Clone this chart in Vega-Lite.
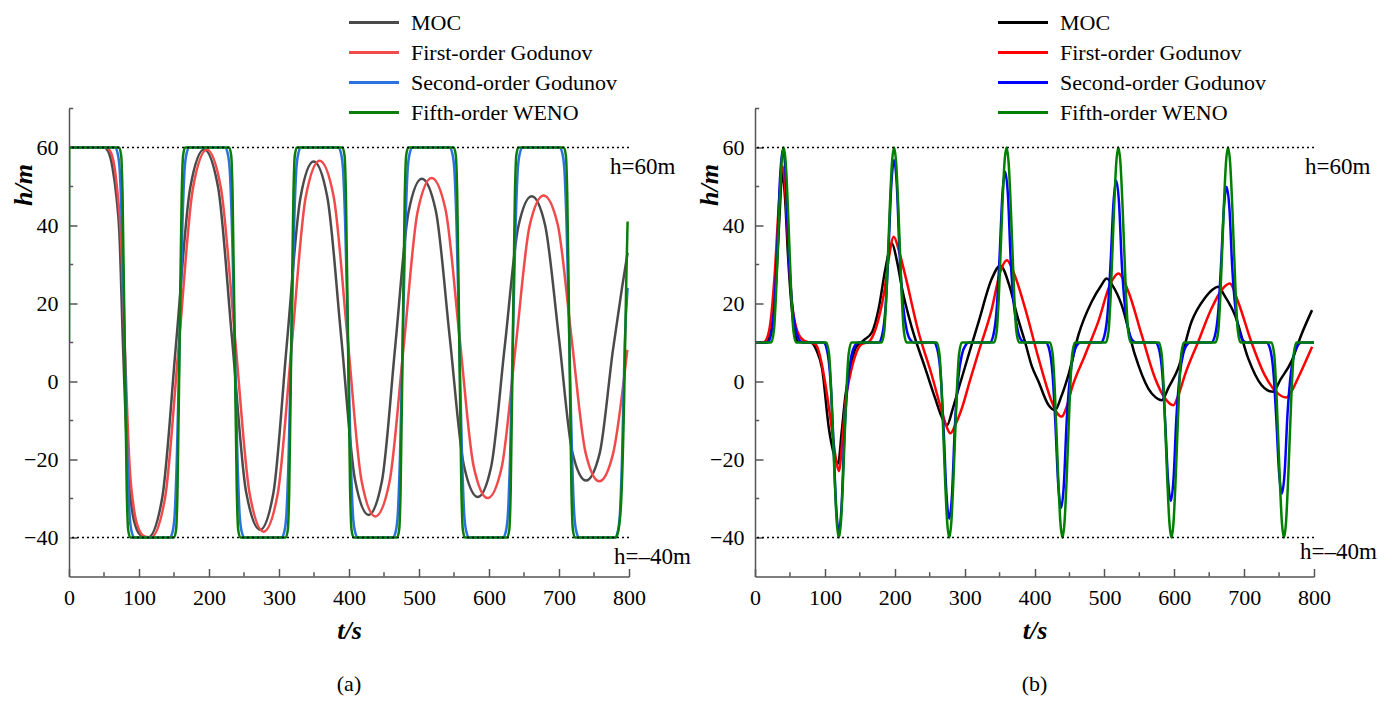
{
  "$schema": "https://vega.github.io/schema/vega-lite/v6.json",
  "background": "white",
  "padding": {"left": 9, "top": 10.5, "right": 5, "bottom": 5},
  "config": {
    "font": "Liberation Serif",
    "view": {"stroke": null},
    "axis": {"labelFont": "Liberation Serif", "labelFontSize": 22, "labelColor": "#000", "titleFont": "Liberation Serif", "titleColor": "#000", "grid": false, "domainColor": "#555", "tickColor": "#555", "domainWidth": 1.5, "tickWidth": 1.5},
    "title": {"font": "Liberation Serif", "fontSize": 22, "fontWeight": "normal", "color": "#000"}
  },
  "datasets": {
    "a": [
      {"series":"MOC","t":0,"h":60},{"series":"MOC","t":50,"h":60},{"series":"MOC","t":56,"h":59},{"series":"MOC","t":62,"h":55},{"series":"MOC","t":68,"h":47},{"series":"MOC","t":72,"h":38},{"series":"MOC","t":77,"h":10},{"series":"MOC","t":84,"h":-22},{"series":"MOC","t":90,"h":-33},{"series":"MOC","t":97,"h":-38},{"series":"MOC","t":105,"h":-39.7},{"series":"MOC","t":113,"h":-40},{"series":"MOC","t":133,"h":-30},{"series":"MOC","t":153,"h":9.8},{"series":"MOC","t":173,"h":49.5},{"series":"MOC","t":193,"h":59.5},{"series":"MOC","t":213,"h":49.8},{"series":"MOC","t":233,"h":10.8},{"series":"MOC","t":253,"h":-28.3},{"series":"MOC","t":273,"h":-38},{"series":"MOC","t":292,"h":-28.6},{"series":"MOC","t":311,"h":9.2},{"series":"MOC","t":330.5,"h":47},{"series":"MOC","t":349.5,"h":56.4},{"series":"MOC","t":369,"h":47.3},{"series":"MOC","t":389,"h":11.1},{"series":"MOC","t":408.5,"h":-25.1},{"series":"MOC","t":428,"h":-34.2},{"series":"MOC","t":447,"h":-25.6},{"series":"MOC","t":466,"h":8.9},{"series":"MOC","t":485,"h":43.4},{"series":"MOC","t":504,"h":52},{"series":"MOC","t":524,"h":43.8},{"series":"MOC","t":544,"h":11.2},{"series":"MOC","t":564,"h":-21.4},{"series":"MOC","t":584,"h":-29.6},{"series":"MOC","t":603,"h":-21.9},{"series":"MOC","t":622.5,"h":9},{"series":"MOC","t":642,"h":39.8},{"series":"MOC","t":661,"h":47.5},{"series":"MOC","t":680,"h":40.2},{"series":"MOC","t":700,"h":11},{"series":"MOC","t":719,"h":-18.1},{"series":"MOC","t":738.6,"h":-25.4},{"series":"MOC","t":758,"h":-18.5},{"series":"MOC","t":777,"h":8},{"series":"MOC","t":790,"h":24},{"series":"MOC","t":798,"h":33},
      {"series":"First-order Godunov","t":0,"h":60},{"series":"First-order Godunov","t":53,"h":60},{"series":"First-order Godunov","t":59,"h":59},{"series":"First-order Godunov","t":65,"h":55},{"series":"First-order Godunov","t":70,"h":47},{"series":"First-order Godunov","t":74,"h":38},{"series":"First-order Godunov","t":79.5,"h":10},{"series":"First-order Godunov","t":86.7,"h":-22},{"series":"First-order Godunov","t":93,"h":-33},{"series":"First-order Godunov","t":100,"h":-38},{"series":"First-order Godunov","t":108,"h":-39.7},{"series":"First-order Godunov","t":117,"h":-40},{"series":"First-order Godunov","t":137,"h":-30.1},{"series":"First-order Godunov","t":157,"h":9.7},{"series":"First-order Godunov","t":177,"h":49.5},{"series":"First-order Godunov","t":197,"h":59.4},{"series":"First-order Godunov","t":217,"h":49.6},{"series":"First-order Godunov","t":237.5,"h":10.5},{"series":"First-order Godunov","t":258,"h":-28.7},{"series":"First-order Godunov","t":278,"h":-38.5},{"series":"First-order Godunov","t":298,"h":-29},{"series":"First-order Godunov","t":318,"h":9},{"series":"First-order Godunov","t":338,"h":47.1},{"series":"First-order Godunov","t":358,"h":56.6},{"series":"First-order Godunov","t":378,"h":47.5},{"series":"First-order Godunov","t":398,"h":11},{"series":"First-order Godunov","t":418,"h":-25.5},{"series":"First-order Godunov","t":437.6,"h":-34.6},{"series":"First-order Godunov","t":457.7,"h":-25.9},{"series":"First-order Godunov","t":478,"h":8.8},{"series":"First-order Godunov","t":498,"h":43.5},{"series":"First-order Godunov","t":518,"h":52.2},{"series":"First-order Godunov","t":538,"h":44},{"series":"First-order Godunov","t":558,"h":11.2},{"series":"First-order Godunov","t":578,"h":-21.7},{"series":"First-order Godunov","t":598,"h":-29.9},{"series":"First-order Godunov","t":618,"h":-22.1},{"series":"First-order Godunov","t":638,"h":8.9},{"series":"First-order Godunov","t":658,"h":39.9},{"series":"First-order Godunov","t":678,"h":47.7},{"series":"First-order Godunov","t":698,"h":40.4},{"series":"First-order Godunov","t":718,"h":11},{"series":"First-order Godunov","t":738,"h":-18.3},{"series":"First-order Godunov","t":757.6,"h":-25.6},{"series":"First-order Godunov","t":777,"h":-18.7},{"series":"First-order Godunov","t":797.6,"h":8.1},
      {"series":"Second-order Godunov","t":0,"h":60},{"series":"Second-order Godunov","t":65.5,"h":60},{"series":"Second-order Godunov","t":69.5,"h":58.5},{"series":"Second-order Godunov","t":72.5,"h":54},{"series":"Second-order Godunov","t":75.5,"h":40},{"series":"Second-order Godunov","t":79.5,"h":10},{"series":"Second-order Godunov","t":83.5,"h":-20},{"series":"Second-order Godunov","t":86.5,"h":-34},{"series":"Second-order Godunov","t":89.5,"h":-38.5},{"series":"Second-order Godunov","t":93.5,"h":-40},
      {"series":"Second-order Godunov","t":144,"h":-40},{"series":"Second-order Godunov","t":148,"h":-38.5},{"series":"Second-order Godunov","t":151,"h":-34},{"series":"Second-order Godunov","t":154,"h":-20},{"series":"Second-order Godunov","t":158,"h":10},{"series":"Second-order Godunov","t":162,"h":40},{"series":"Second-order Godunov","t":165,"h":54},{"series":"Second-order Godunov","t":168,"h":58.5},{"series":"Second-order Godunov","t":172,"h":60},
      {"series":"Second-order Godunov","t":222.7,"h":60},{"series":"Second-order Godunov","t":226.7,"h":58.5},{"series":"Second-order Godunov","t":229.7,"h":54},{"series":"Second-order Godunov","t":232.7,"h":40},{"series":"Second-order Godunov","t":236.7,"h":10},{"series":"Second-order Godunov","t":240.7,"h":-20},{"series":"Second-order Godunov","t":243.7,"h":-34},{"series":"Second-order Godunov","t":246.7,"h":-38.5},{"series":"Second-order Godunov","t":250.7,"h":-40},
      {"series":"Second-order Godunov","t":303.6,"h":-40},{"series":"Second-order Godunov","t":307.6,"h":-38.5},{"series":"Second-order Godunov","t":310.6,"h":-34},{"series":"Second-order Godunov","t":313.6,"h":-20},{"series":"Second-order Godunov","t":317.6,"h":10},{"series":"Second-order Godunov","t":321.6,"h":40},{"series":"Second-order Godunov","t":324.6,"h":54},{"series":"Second-order Godunov","t":327.6,"h":58.5},{"series":"Second-order Godunov","t":331.6,"h":60},
      {"series":"Second-order Godunov","t":384.6,"h":60},{"series":"Second-order Godunov","t":388.6,"h":58.5},{"series":"Second-order Godunov","t":391.6,"h":54},{"series":"Second-order Godunov","t":394.6,"h":40},{"series":"Second-order Godunov","t":398.6,"h":10},{"series":"Second-order Godunov","t":402.6,"h":-20},{"series":"Second-order Godunov","t":405.6,"h":-34},{"series":"Second-order Godunov","t":408.6,"h":-38.5},{"series":"Second-order Godunov","t":412.6,"h":-40},
      {"series":"Second-order Godunov","t":462.7,"h":-40},{"series":"Second-order Godunov","t":466.7,"h":-38.5},{"series":"Second-order Godunov","t":469.7,"h":-34},{"series":"Second-order Godunov","t":472.7,"h":-20},{"series":"Second-order Godunov","t":476.7,"h":10},{"series":"Second-order Godunov","t":480.7,"h":40},{"series":"Second-order Godunov","t":483.7,"h":54},{"series":"Second-order Godunov","t":486.7,"h":58.5},{"series":"Second-order Godunov","t":490.7,"h":60},
      {"series":"Second-order Godunov","t":543.6,"h":60},{"series":"Second-order Godunov","t":547.6,"h":58.5},{"series":"Second-order Godunov","t":550.6,"h":54},{"series":"Second-order Godunov","t":553.6,"h":40},{"series":"Second-order Godunov","t":557.6,"h":10},{"series":"Second-order Godunov","t":561.6,"h":-20},{"series":"Second-order Godunov","t":564.6,"h":-34},{"series":"Second-order Godunov","t":567.6,"h":-38.5},{"series":"Second-order Godunov","t":571.6,"h":-40},
      {"series":"Second-order Godunov","t":620,"h":-40},{"series":"Second-order Godunov","t":624,"h":-38.5},{"series":"Second-order Godunov","t":627,"h":-34},{"series":"Second-order Godunov","t":630,"h":-20},{"series":"Second-order Godunov","t":634,"h":10},{"series":"Second-order Godunov","t":638,"h":40},{"series":"Second-order Godunov","t":641,"h":54},{"series":"Second-order Godunov","t":644,"h":58.5},{"series":"Second-order Godunov","t":648,"h":60},
      {"series":"Second-order Godunov","t":700.8,"h":60},{"series":"Second-order Godunov","t":704.8,"h":58.5},{"series":"Second-order Godunov","t":707.8,"h":54},{"series":"Second-order Godunov","t":710.8,"h":40},{"series":"Second-order Godunov","t":714.8,"h":10},{"series":"Second-order Godunov","t":718.8,"h":-20},{"series":"Second-order Godunov","t":721.8,"h":-34},{"series":"Second-order Godunov","t":724.8,"h":-38.5},{"series":"Second-order Godunov","t":728.8,"h":-40},
      {"series":"Second-order Godunov","t":780,"h":-40},{"series":"Second-order Godunov","t":784,"h":-38.5},{"series":"Second-order Godunov","t":787,"h":-34},{"series":"Second-order Godunov","t":790,"h":-20},{"series":"Second-order Godunov","t":794,"h":10},{"series":"Second-order Godunov","t":798,"h":24},
      {"series":"Fifth-order WENO","t":0,"h":10},{"series":"Fifth-order WENO","t":0.3,"h":60},
      {"series":"Fifth-order WENO","t":71.5,"h":60},{"series":"Fifth-order WENO","t":74.5,"h":58},{"series":"Fifth-order WENO","t":76.5,"h":48},{"series":"Fifth-order WENO","t":79.5,"h":10},{"series":"Fifth-order WENO","t":82.5,"h":-28},{"series":"Fifth-order WENO","t":84.5,"h":-38},{"series":"Fifth-order WENO","t":87.5,"h":-40},
      {"series":"Fifth-order WENO","t":150,"h":-40},{"series":"Fifth-order WENO","t":153,"h":-38},{"series":"Fifth-order WENO","t":155,"h":-28},{"series":"Fifth-order WENO","t":158,"h":10},{"series":"Fifth-order WENO","t":161,"h":48},{"series":"Fifth-order WENO","t":163,"h":58},{"series":"Fifth-order WENO","t":166,"h":60},
      {"series":"Fifth-order WENO","t":228.7,"h":60},{"series":"Fifth-order WENO","t":231.7,"h":58},{"series":"Fifth-order WENO","t":233.7,"h":48},{"series":"Fifth-order WENO","t":236.7,"h":10},{"series":"Fifth-order WENO","t":239.7,"h":-28},{"series":"Fifth-order WENO","t":241.7,"h":-38},{"series":"Fifth-order WENO","t":244.7,"h":-40},
      {"series":"Fifth-order WENO","t":309.6,"h":-40},{"series":"Fifth-order WENO","t":312.6,"h":-38},{"series":"Fifth-order WENO","t":314.6,"h":-28},{"series":"Fifth-order WENO","t":317.6,"h":10},{"series":"Fifth-order WENO","t":320.6,"h":48},{"series":"Fifth-order WENO","t":322.6,"h":58},{"series":"Fifth-order WENO","t":325.6,"h":60},
      {"series":"Fifth-order WENO","t":390.6,"h":60},{"series":"Fifth-order WENO","t":393.6,"h":58},{"series":"Fifth-order WENO","t":395.6,"h":48},{"series":"Fifth-order WENO","t":398.6,"h":10},{"series":"Fifth-order WENO","t":401.6,"h":-28},{"series":"Fifth-order WENO","t":403.6,"h":-38},{"series":"Fifth-order WENO","t":406.6,"h":-40},
      {"series":"Fifth-order WENO","t":468.7,"h":-40},{"series":"Fifth-order WENO","t":471.7,"h":-38},{"series":"Fifth-order WENO","t":473.7,"h":-28},{"series":"Fifth-order WENO","t":476.7,"h":10},{"series":"Fifth-order WENO","t":479.7,"h":48},{"series":"Fifth-order WENO","t":481.7,"h":58},{"series":"Fifth-order WENO","t":484.7,"h":60},
      {"series":"Fifth-order WENO","t":549.6,"h":60},{"series":"Fifth-order WENO","t":552.6,"h":58},{"series":"Fifth-order WENO","t":554.6,"h":48},{"series":"Fifth-order WENO","t":557.6,"h":10},{"series":"Fifth-order WENO","t":560.6,"h":-28},{"series":"Fifth-order WENO","t":562.6,"h":-38},{"series":"Fifth-order WENO","t":565.6,"h":-40},
      {"series":"Fifth-order WENO","t":626,"h":-40},{"series":"Fifth-order WENO","t":629,"h":-38},{"series":"Fifth-order WENO","t":631,"h":-28},{"series":"Fifth-order WENO","t":634,"h":10},{"series":"Fifth-order WENO","t":637,"h":48},{"series":"Fifth-order WENO","t":639,"h":58},{"series":"Fifth-order WENO","t":642,"h":60},
      {"series":"Fifth-order WENO","t":706.8,"h":60},{"series":"Fifth-order WENO","t":709.8,"h":58},{"series":"Fifth-order WENO","t":711.8,"h":48},{"series":"Fifth-order WENO","t":714.8,"h":10},{"series":"Fifth-order WENO","t":717.8,"h":-28},{"series":"Fifth-order WENO","t":719.8,"h":-38},{"series":"Fifth-order WENO","t":722.8,"h":-40},
      {"series":"Fifth-order WENO","t":781,"h":-40},{"series":"Fifth-order WENO","t":785,"h":-38},{"series":"Fifth-order WENO","t":789,"h":-30},{"series":"Fifth-order WENO","t":793,"h":-5},{"series":"Fifth-order WENO","t":796,"h":25},{"series":"Fifth-order WENO","t":798,"h":41}
    ],
    "b": [
      {"series":"MOC","t":0,"h":10},{"series":"MOC","t":15,"h":10},{"series":"MOC","t":20,"h":11},{"series":"MOC","t":25,"h":15},{"series":"MOC","t":30,"h":25},{"series":"MOC","t":35,"h":42},{"series":"MOC","t":39,"h":53.8},{"series":"MOC","t":43,"h":47},{"series":"MOC","t":47,"h":33},{"series":"MOC","t":52,"h":20},{"series":"MOC","t":57,"h":12.5},{"series":"MOC","t":62,"h":10.2},{"series":"MOC","t":80,"h":10},{"series":"MOC","t":88,"h":8},{"series":"MOC","t":96,"h":3.3},{"series":"MOC","t":105.7,"h":-12},{"series":"MOC","t":112,"h":-18},{"series":"MOC","t":119,"h":-21},{"series":"MOC","t":124,"h":-13},{"series":"MOC","t":129.5,"h":-3.5},{"series":"MOC","t":136,"h":3},{"series":"MOC","t":143.8,"h":8.5},{"series":"MOC","t":155,"h":10.5},{"series":"MOC","t":167.6,"h":12.7},{"series":"MOC","t":177,"h":18.7},{"series":"MOC","t":186.7,"h":29},{"series":"MOC","t":196,"h":35.4},{"series":"MOC","t":203,"h":31},{"series":"MOC","t":210.5,"h":23.8},{"series":"MOC","t":224.8,"h":13.6},{"series":"MOC","t":243.8,"h":3.3},{"series":"MOC","t":258,"h":-4.4},{"series":"MOC","t":267,"h":-9},{"series":"MOC","t":274.8,"h":-11.2},{"series":"MOC","t":283,"h":-7},{"series":"MOC","t":291.4,"h":-1.8},{"series":"MOC","t":305.7,"h":6.8},{"series":"MOC","t":320,"h":15.3},{"series":"MOC","t":339,"h":26.4},{"series":"MOC","t":351,"h":29.7},{"series":"MOC","t":365,"h":24},{"series":"MOC","t":375,"h":17},{"series":"MOC","t":386.7,"h":10},{"series":"MOC","t":396,"h":4},{"series":"MOC","t":405.7,"h":0},{"series":"MOC","t":420,"h":-6},{"series":"MOC","t":429.6,"h":-7.3},{"series":"MOC","t":438,"h":-4},{"series":"MOC","t":448.6,"h":1.7},{"series":"MOC","t":463,"h":12},{"series":"MOC","t":482,"h":20.5},{"series":"MOC","t":495,"h":24.5},{"series":"MOC","t":503.4,"h":26.4},{"series":"MOC","t":512,"h":24.5},{"series":"MOC","t":524.8,"h":19.6},{"series":"MOC","t":543.8,"h":6.8},{"series":"MOC","t":562.9,"h":-1.8},{"series":"MOC","t":573,"h":-4},{"series":"MOC","t":581.9,"h":-4.8},{"series":"MOC","t":592,"h":-1.5},{"series":"MOC","t":605.7,"h":3.4},{"series":"MOC","t":624.8,"h":15.4},{"series":"MOC","t":643.8,"h":21.4},{"series":"MOC","t":655,"h":23.6},{"series":"MOC","t":662.9,"h":24.3},{"series":"MOC","t":672,"h":22},{"series":"MOC","t":686.7,"h":17.1},{"series":"MOC","t":705.7,"h":6},{"series":"MOC","t":724.8,"h":-0.9},{"series":"MOC","t":733,"h":-2.2},{"series":"MOC","t":741.4,"h":-2.6},{"series":"MOC","t":752,"h":0.5},{"series":"MOC","t":767.6,"h":5.1},{"series":"MOC","t":781.9,"h":12},{"series":"MOC","t":797.2,"h":18.3},
      {"series":"First-order Godunov","t":0,"h":10},{"series":"First-order Godunov","t":12,"h":10},{"series":"First-order Godunov","t":17,"h":11},{"series":"First-order Godunov","t":22,"h":15},{"series":"First-order Godunov","t":28,"h":27},{"series":"First-order Godunov","t":34,"h":45},{"series":"First-order Godunov","t":39,"h":55.3},{"series":"First-order Godunov","t":44,"h":47},{"series":"First-order Godunov","t":48,"h":33},{"series":"First-order Godunov","t":53,"h":20},{"series":"First-order Godunov","t":58,"h":14.5},{"series":"First-order Godunov","t":63,"h":11.9},{"series":"First-order Godunov","t":70,"h":10.5},{"series":"First-order Godunov","t":87,"h":9.5},{"series":"First-order Godunov","t":95,"h":5},{"series":"First-order Godunov","t":101,"h":-1},{"series":"First-order Godunov","t":110.5,"h":-12.9},{"series":"First-order Godunov","t":115,"h":-19},{"series":"First-order Godunov","t":120,"h":-23},{"series":"First-order Godunov","t":125,"h":-15},{"series":"First-order Godunov","t":129.5,"h":-5.2},{"series":"First-order Godunov","t":136,"h":1.5},{"series":"First-order Godunov","t":143.8,"h":6.8},{"series":"First-order Godunov","t":152,"h":9.5},{"series":"First-order Godunov","t":162.9,"h":10.2},{"series":"First-order Godunov","t":177,"h":16.2},{"series":"First-order Godunov","t":185,"h":23},{"series":"First-order Godunov","t":191.4,"h":31.5},{"series":"First-order Godunov","t":198.6,"h":37.1},{"series":"First-order Godunov","t":206,"h":33.5},{"series":"First-order Godunov","t":215,"h":27.2},{"series":"First-order Godunov","t":234,"h":12.7},{"series":"First-order Godunov","t":253,"h":1.6},{"series":"First-order Godunov","t":267.6,"h":-7.8},{"series":"First-order Godunov","t":274,"h":-11.5},{"series":"First-order Godunov","t":279.5,"h":-13.3},{"series":"First-order Godunov","t":287,"h":-11},{"series":"First-order Godunov","t":296,"h":-6.9},{"series":"First-order Godunov","t":308,"h":0.5},{"series":"First-order Godunov","t":320,"h":7.6},{"series":"First-order Godunov","t":339,"h":18.7},{"series":"First-order Godunov","t":351,"h":28.1},{"series":"First-order Godunov","t":360.5,"h":31.1},{"series":"First-order Godunov","t":370,"h":28},{"series":"First-order Godunov","t":386.7,"h":18.7},{"series":"First-order Godunov","t":405.7,"h":6},{"series":"First-order Godunov","t":424.8,"h":-5.2},{"series":"First-order Godunov","t":432,"h":-8},{"series":"First-order Godunov","t":439,"h":-9},{"series":"First-order Godunov","t":446,"h":-6.5},{"series":"First-order Godunov","t":453.3,"h":-1.8},{"series":"First-order Godunov","t":472.4,"h":6.8},{"series":"First-order Godunov","t":491.4,"h":15.4},{"series":"First-order Godunov","t":508,"h":24.8},{"series":"First-order Godunov","t":520,"h":27.7},{"series":"First-order Godunov","t":534.3,"h":23.1},{"series":"First-order Godunov","t":553.3,"h":12},{"series":"First-order Godunov","t":572.4,"h":0.9},{"series":"First-order Godunov","t":586.7,"h":-4.3},{"series":"First-order Godunov","t":598.6,"h":-6.1},{"series":"First-order Godunov","t":606,"h":-3.5},{"series":"First-order Godunov","t":615.3,"h":1.7},{"series":"First-order Godunov","t":634.3,"h":10.2},{"series":"First-order Godunov","t":653.3,"h":18.7},{"series":"First-order Godunov","t":668,"h":23.5},{"series":"First-order Godunov","t":679.5,"h":25.1},{"series":"First-order Godunov","t":691.2,"h":20.5},{"series":"First-order Godunov","t":710.2,"h":10.2},{"series":"First-order Godunov","t":729.3,"h":1.7},{"series":"First-order Godunov","t":745,"h":-2.5},{"series":"First-order Godunov","t":760.5,"h":-4.1},{"series":"First-order Godunov","t":768,"h":-2.5},{"series":"First-order Godunov","t":777.2,"h":0.9},{"series":"First-order Godunov","t":797.2,"h":8.9},
      {"series":"Second-order Godunov","t":0,"h":10},{"series":"Second-order Godunov","t":18,"h":10},{"series":"Second-order Godunov","t":23,"h":12},{"series":"Second-order Godunov","t":28,"h":19.9},{"series":"Second-order Godunov","t":32,"h":34.9},{"series":"Second-order Godunov","t":36,"h":52.7},{"series":"Second-order Godunov","t":40,"h":59.7},{"series":"Second-order Godunov","t":44,"h":52.7},{"series":"Second-order Godunov","t":48,"h":33.9},{"series":"Second-order Godunov","t":53,"h":19.9},{"series":"Second-order Godunov","t":58,"h":13.5},{"series":"Second-order Godunov","t":64,"h":10.5},{"series":"Second-order Godunov","t":68,"h":10},
      {"series":"Second-order Godunov","t":98,"h":10},{"series":"Second-order Godunov","t":103,"h":8.1},{"series":"Second-order Godunov","t":108,"h":0.3},{"series":"Second-order Godunov","t":112,"h":-14.3},{"series":"Second-order Godunov","t":116,"h":-31.7},{"series":"Second-order Godunov","t":120,"h":-38.5},{"series":"Second-order Godunov","t":124,"h":-31.7},{"series":"Second-order Godunov","t":128,"h":-13.3},{"series":"Second-order Godunov","t":133,"h":0.3},{"series":"Second-order Godunov","t":138,"h":6.6},{"series":"Second-order Godunov","t":144,"h":9.5},{"series":"Second-order Godunov","t":148,"h":10},
      {"series":"Second-order Godunov","t":177,"h":10},{"series":"Second-order Godunov","t":182,"h":11.9},{"series":"Second-order Godunov","t":187,"h":19.4},{"series":"Second-order Godunov","t":191,"h":33.4},{"series":"Second-order Godunov","t":195,"h":50.2},{"series":"Second-order Godunov","t":199,"h":56.8},{"series":"Second-order Godunov","t":203,"h":50.2},{"series":"Second-order Godunov","t":207,"h":32.5},{"series":"Second-order Godunov","t":212,"h":19.4},{"series":"Second-order Godunov","t":217,"h":13.3},{"series":"Second-order Godunov","t":223,"h":10.5},{"series":"Second-order Godunov","t":227,"h":10},
      {"series":"Second-order Godunov","t":256,"h":10},{"series":"Second-order Godunov","t":261,"h":8.2},{"series":"Second-order Godunov","t":266,"h":1},{"series":"Second-order Godunov","t":270,"h":-12.6},{"series":"Second-order Godunov","t":274,"h":-28.9},{"series":"Second-order Godunov","t":278,"h":-35.2},{"series":"Second-order Godunov","t":282,"h":-28.9},{"series":"Second-order Godunov","t":286,"h":-11.7},{"series":"Second-order Godunov","t":291,"h":1},{"series":"Second-order Godunov","t":296,"h":6.8},{"series":"Second-order Godunov","t":302,"h":9.5},{"series":"Second-order Godunov","t":306,"h":10},
      {"series":"Second-order Godunov","t":336,"h":10},{"series":"Second-order Godunov","t":341,"h":11.8},{"series":"Second-order Godunov","t":346,"h":18.8},{"series":"Second-order Godunov","t":350,"h":31.9},{"series":"Second-order Godunov","t":354,"h":47.7},{"series":"Second-order Godunov","t":358,"h":53.8},{"series":"Second-order Godunov","t":362,"h":47.7},{"series":"Second-order Godunov","t":366,"h":31},{"series":"Second-order Godunov","t":371,"h":18.8},{"series":"Second-order Godunov","t":376,"h":13.1},{"series":"Second-order Godunov","t":382,"h":10.4},{"series":"Second-order Godunov","t":386,"h":10},
      {"series":"Second-order Godunov","t":416,"h":10},{"series":"Second-order Godunov","t":421,"h":8.3},{"series":"Second-order Godunov","t":426,"h":1.5},{"series":"Second-order Godunov","t":430,"h":-11.2},{"series":"Second-order Godunov","t":434,"h":-26.5},{"series":"Second-order Godunov","t":438,"h":-32.4},{"series":"Second-order Godunov","t":442,"h":-26.5},{"series":"Second-order Godunov","t":446,"h":-10.4},{"series":"Second-order Godunov","t":451,"h":1.5},{"series":"Second-order Godunov","t":456,"h":7},{"series":"Second-order Godunov","t":462,"h":9.6},{"series":"Second-order Godunov","t":466,"h":10},
      {"series":"Second-order Godunov","t":495,"h":10},{"series":"Second-order Godunov","t":500,"h":11.7},{"series":"Second-order Godunov","t":505,"h":18.3},{"series":"Second-order Godunov","t":509,"h":30.8},{"series":"Second-order Godunov","t":513,"h":45.7},{"series":"Second-order Godunov","t":517,"h":51.5},{"series":"Second-order Godunov","t":521,"h":45.7},{"series":"Second-order Godunov","t":525,"h":29.9},{"series":"Second-order Godunov","t":530,"h":18.3},{"series":"Second-order Godunov","t":535,"h":12.9},{"series":"Second-order Godunov","t":541,"h":10.4},{"series":"Second-order Godunov","t":545,"h":10},
      {"series":"Second-order Godunov","t":573,"h":10},{"series":"Second-order Godunov","t":578,"h":8.4},{"series":"Second-order Godunov","t":583,"h":1.9},{"series":"Second-order Godunov","t":587,"h":-10.3},{"series":"Second-order Godunov","t":591,"h":-24.9},{"series":"Second-order Godunov","t":595,"h":-30.6},{"series":"Second-order Godunov","t":599,"h":-24.9},{"series":"Second-order Godunov","t":603,"h":-9.5},{"series":"Second-order Godunov","t":608,"h":1.9},{"series":"Second-order Godunov","t":613,"h":7.2},{"series":"Second-order Godunov","t":619,"h":9.6},{"series":"Second-order Godunov","t":623,"h":10},
      {"series":"Second-order Godunov","t":653,"h":10},{"series":"Second-order Godunov","t":658,"h":11.6},{"series":"Second-order Godunov","t":663,"h":18},{"series":"Second-order Godunov","t":667,"h":30},{"series":"Second-order Godunov","t":671,"h":44.3},{"series":"Second-order Godunov","t":675,"h":49.9},{"series":"Second-order Godunov","t":679,"h":44.3},{"series":"Second-order Godunov","t":683,"h":29.2},{"series":"Second-order Godunov","t":688,"h":18},{"series":"Second-order Godunov","t":693,"h":12.8},{"series":"Second-order Godunov","t":699,"h":10.4},{"series":"Second-order Godunov","t":703,"h":10},
      {"series":"Second-order Godunov","t":732,"h":10},{"series":"Second-order Godunov","t":737,"h":8.5},{"series":"Second-order Godunov","t":742,"h":2.3},{"series":"Second-order Godunov","t":746,"h":-9.4},{"series":"Second-order Godunov","t":750,"h":-23.3},{"series":"Second-order Godunov","t":754,"h":-28.7},{"series":"Second-order Godunov","t":758,"h":-23.3},{"series":"Second-order Godunov","t":762,"h":-8.6},{"series":"Second-order Godunov","t":767,"h":2.3},{"series":"Second-order Godunov","t":772,"h":7.3},{"series":"Second-order Godunov","t":778,"h":9.6},{"series":"Second-order Godunov","t":782,"h":10},{"series":"Second-order Godunov","t":800,"h":10},
      {"series":"Fifth-order WENO","t":0,"h":10},
      {"series":"Fifth-order WENO","t":23,"h":10},{"series":"Fifth-order WENO","t":27,"h":13},{"series":"Fifth-order WENO","t":30,"h":22},{"series":"Fifth-order WENO","t":35,"h":45},{"series":"Fifth-order WENO","t":38,"h":56},{"series":"Fifth-order WENO","t":41,"h":60},{"series":"Fifth-order WENO","t":44,"h":56},{"series":"Fifth-order WENO","t":47,"h":45},{"series":"Fifth-order WENO","t":52,"h":22},{"series":"Fifth-order WENO","t":55,"h":13},{"series":"Fifth-order WENO","t":59,"h":10},
      {"series":"Fifth-order WENO","t":102,"h":10},{"series":"Fifth-order WENO","t":106,"h":7},{"series":"Fifth-order WENO","t":109,"h":-2},{"series":"Fifth-order WENO","t":114,"h":-25},{"series":"Fifth-order WENO","t":117,"h":-36},{"series":"Fifth-order WENO","t":120,"h":-40},{"series":"Fifth-order WENO","t":123,"h":-36},{"series":"Fifth-order WENO","t":126,"h":-25},{"series":"Fifth-order WENO","t":131,"h":-2},{"series":"Fifth-order WENO","t":134,"h":7},{"series":"Fifth-order WENO","t":138,"h":10},
      {"series":"Fifth-order WENO","t":181,"h":10},{"series":"Fifth-order WENO","t":185,"h":13},{"series":"Fifth-order WENO","t":188,"h":22},{"series":"Fifth-order WENO","t":193,"h":45},{"series":"Fifth-order WENO","t":196,"h":56},{"series":"Fifth-order WENO","t":199,"h":60},{"series":"Fifth-order WENO","t":202,"h":56},{"series":"Fifth-order WENO","t":205,"h":45},{"series":"Fifth-order WENO","t":210,"h":22},{"series":"Fifth-order WENO","t":213,"h":13},{"series":"Fifth-order WENO","t":217,"h":10},
      {"series":"Fifth-order WENO","t":260,"h":10},{"series":"Fifth-order WENO","t":264,"h":7},{"series":"Fifth-order WENO","t":267,"h":-2},{"series":"Fifth-order WENO","t":272,"h":-25},{"series":"Fifth-order WENO","t":275,"h":-36},{"series":"Fifth-order WENO","t":278,"h":-40},{"series":"Fifth-order WENO","t":281,"h":-36},{"series":"Fifth-order WENO","t":284,"h":-25},{"series":"Fifth-order WENO","t":289,"h":-2},{"series":"Fifth-order WENO","t":292,"h":7},{"series":"Fifth-order WENO","t":296,"h":10},
      {"series":"Fifth-order WENO","t":342,"h":10},{"series":"Fifth-order WENO","t":346,"h":13},{"series":"Fifth-order WENO","t":349,"h":22},{"series":"Fifth-order WENO","t":354,"h":45},{"series":"Fifth-order WENO","t":357,"h":56},{"series":"Fifth-order WENO","t":360,"h":60},{"series":"Fifth-order WENO","t":363,"h":56},{"series":"Fifth-order WENO","t":366,"h":45},{"series":"Fifth-order WENO","t":371,"h":22},{"series":"Fifth-order WENO","t":374,"h":13},{"series":"Fifth-order WENO","t":378,"h":10},
      {"series":"Fifth-order WENO","t":422,"h":10},{"series":"Fifth-order WENO","t":426,"h":7},{"series":"Fifth-order WENO","t":429,"h":-2},{"series":"Fifth-order WENO","t":434,"h":-25},{"series":"Fifth-order WENO","t":437,"h":-36},{"series":"Fifth-order WENO","t":440,"h":-40},{"series":"Fifth-order WENO","t":443,"h":-36},{"series":"Fifth-order WENO","t":446,"h":-25},{"series":"Fifth-order WENO","t":451,"h":-2},{"series":"Fifth-order WENO","t":454,"h":7},{"series":"Fifth-order WENO","t":458,"h":10},
      {"series":"Fifth-order WENO","t":502,"h":10},{"series":"Fifth-order WENO","t":506,"h":13},{"series":"Fifth-order WENO","t":509,"h":22},{"series":"Fifth-order WENO","t":514,"h":45},{"series":"Fifth-order WENO","t":517,"h":56},{"series":"Fifth-order WENO","t":520,"h":60},{"series":"Fifth-order WENO","t":523,"h":56},{"series":"Fifth-order WENO","t":526,"h":45},{"series":"Fifth-order WENO","t":531,"h":22},{"series":"Fifth-order WENO","t":534,"h":13},{"series":"Fifth-order WENO","t":538,"h":10},
      {"series":"Fifth-order WENO","t":578,"h":10},{"series":"Fifth-order WENO","t":582,"h":7},{"series":"Fifth-order WENO","t":585,"h":-2},{"series":"Fifth-order WENO","t":590,"h":-25},{"series":"Fifth-order WENO","t":593,"h":-36},{"series":"Fifth-order WENO","t":596,"h":-40},{"series":"Fifth-order WENO","t":599,"h":-36},{"series":"Fifth-order WENO","t":602,"h":-25},{"series":"Fifth-order WENO","t":607,"h":-2},{"series":"Fifth-order WENO","t":610,"h":7},{"series":"Fifth-order WENO","t":614,"h":10},
      {"series":"Fifth-order WENO","t":659,"h":10},{"series":"Fifth-order WENO","t":663,"h":13},{"series":"Fifth-order WENO","t":666,"h":22},{"series":"Fifth-order WENO","t":671,"h":45},{"series":"Fifth-order WENO","t":674,"h":56},{"series":"Fifth-order WENO","t":677,"h":60},{"series":"Fifth-order WENO","t":680,"h":56},{"series":"Fifth-order WENO","t":683,"h":45},{"series":"Fifth-order WENO","t":688,"h":22},{"series":"Fifth-order WENO","t":691,"h":13},{"series":"Fifth-order WENO","t":695,"h":10},
      {"series":"Fifth-order WENO","t":739,"h":10},{"series":"Fifth-order WENO","t":743,"h":7},{"series":"Fifth-order WENO","t":746,"h":-2},{"series":"Fifth-order WENO","t":751,"h":-25},{"series":"Fifth-order WENO","t":754,"h":-36},{"series":"Fifth-order WENO","t":757,"h":-40},{"series":"Fifth-order WENO","t":760,"h":-36},{"series":"Fifth-order WENO","t":763,"h":-25},{"series":"Fifth-order WENO","t":768,"h":-2},{"series":"Fifth-order WENO","t":771,"h":7},{"series":"Fifth-order WENO","t":775,"h":10},{"series":"Fifth-order WENO","t":800,"h":10}
    ],
    "yminor": [{"h": -30}, {"h": -10}, {"h": 10}, {"h": 30}, {"h": 50}, {"h": 70}],
    "xminor": [{"t": 50}, {"t": 150}, {"t": 250}, {"t": 350}, {"t": 450}, {"t": 550}, {"t": 650}, {"t": 750}]
  },
  "bounds": "flush",
  "spacing": 126,
  "resolve": {"scale": {"color": "independent"}, "legend": {"color": "independent"}},
  "hconcat": [
    {
      "width": 560, "height": 468,
      "title": {"text": "(a)", "orient": "bottom", "offset": 30, "font": "Liberation Serif", "fontSize": 22, "fontWeight": "normal", "color": "#000"},
      "layer": [
        {
          "data": {"name": "a"},
          "mark": {"type": "line", "interpolate": "monotone", "strokeWidth": 2.5, "clip": true},
          "encoding": {
            "x": {"field": "t", "type": "quantitative", "scale": {"domain": [0, 800], "nice": false},
                  "axis": {"orient": "bottom", "values": [0,100,200,300,400,500,600,700,800], "tickSize": -8, "tickWidth": 1.5, "tickColor": "#555", "domainColor": "#555", "domainWidth": 1.5, "grid": false, "labelFont": "Liberation Serif", "labelFontSize": 22, "labelColor": "#000", "labelPadding": 29, "labelBaseline": "middle", "labelFlush": false, "labelOverlap": false, "title": "t/s", "titleFont": "Liberation Serif", "titleColor": "#000", "titleFontSize": 26, "titleFontWeight": "bold", "titleFontStyle": "italic", "titleY": 54, "titleBaseline": "middle"}},
            "y": {"field": "h", "type": "quantitative", "scale": {"domain": [-50, 70], "nice": false, "zero": false},
                  "axis": {"orient": "left", "values": [-40,-20,0,20,40,60], "tickSize": -8, "tickWidth": 1.5, "tickColor": "#555", "domainColor": "#555", "domainWidth": 1.5, "grid": false, "labelFont": "Liberation Serif", "labelFontSize": 22, "labelColor": "#000", "labelPadding": 19, "labelFlush": false, "labelOverlap": false, "title": "h/m", "titleFont": "Liberation Serif", "titleColor": "#000", "titleFontSize": 26, "titleFontWeight": "bold", "titleFontStyle": "italic", "titleX": -46, "titleY": 76, "titleAngle": -90, "titleBaseline": "middle", "titleAlign": "center"}},
            "color": {"field": "series", "type": "nominal",
                      "scale": {"domain": ["MOC", "First-order Godunov", "Second-order Godunov", "Fifth-order WENO"], "range": ["#4a4a4a", "#f04a4a", "#2a72de", "#0b7d0b"]},
                      "legend": {"orient": "none", "legendX": 293.5, "legendY": -97.5, "title": null, "symbolType": "M-2.5,0H2.5", "symbolSize": 400, "symbolStrokeWidth": 3, "labelFont": "Liberation Serif", "labelFontSize": 22, "labelColor": "#000", "labelOffset": 25.5, "labelLimit": 500, "rowPadding": 7, "padding": 0}}
          }
        },
        {
          "data": {"name": "yminor"},
          "mark": {"type": "rule", "color": "#555", "strokeWidth": 1.5},
          "encoding": {"y": {"field": "h", "type": "quantitative"}, "x": {"datum": 0, "type": "quantitative"}, "x2": {"datum": 6}}
        },
        {
          "data": {"name": "xminor"},
          "mark": {"type": "rule", "color": "#555", "strokeWidth": 1.5},
          "encoding": {"x": {"field": "t", "type": "quantitative"}, "y": {"datum": -50, "type": "quantitative"}, "y2": {"datum": -48.9}}
        },
        {
          "data": {"values": [{}]},
          "mark": {"type": "rule", "strokeDash": [2, 3], "color": "#000", "strokeWidth": 1.5},
          "encoding": {"y": {"datum": 60, "type": "quantitative"}}
        },
        {
          "data": {"values": [{}]},
          "mark": {"type": "rule", "strokeDash": [2, 3], "color": "#000", "strokeWidth": 1.5},
          "encoding": {"y": {"datum": -40, "type": "quantitative"}}
        },
        {
          "data": {"values": [{}]},
          "mark": {"type": "text", "align": "left", "baseline": "middle", "fontSize": 23, "font": "Liberation Serif", "color": "#000"},
          "encoding": {
            "x": {"datum": 773, "type": "quantitative"},
            "y": {"datum": 55.1, "type": "quantitative"},
            "text": {"value": "h=60m"}
          }
        },
        {
          "data": {"values": [{}]},
          "mark": {"type": "text", "align": "left", "baseline": "middle", "fontSize": 23, "font": "Liberation Serif", "color": "#000"},
          "encoding": {
            "x": {"datum": 778.6, "type": "quantitative"},
            "y": {"datum": -45.1, "type": "quantitative"},
            "text": {"value": "h=–40m"}
          }
        }
      ]
    },
    {
      "width": 559, "height": 468,
      "title": {"text": "(b)", "orient": "bottom", "offset": 30, "font": "Liberation Serif", "fontSize": 22, "fontWeight": "normal", "color": "#000"},
      "layer": [
        {
          "data": {"name": "b"},
          "mark": {"type": "line", "interpolate": "monotone", "strokeWidth": 2.5, "clip": true},
          "encoding": {
            "x": {"field": "t", "type": "quantitative", "scale": {"domain": [0, 800], "nice": false},
                  "axis": {"orient": "bottom", "values": [0,100,200,300,400,500,600,700,800], "tickSize": -8, "tickWidth": 1.5, "tickColor": "#555", "domainColor": "#555", "domainWidth": 1.5, "grid": false, "labelFont": "Liberation Serif", "labelFontSize": 22, "labelColor": "#000", "labelPadding": 29, "labelBaseline": "middle", "labelFlush": false, "labelOverlap": false, "title": "t/s", "titleFont": "Liberation Serif", "titleColor": "#000", "titleFontSize": 26, "titleFontWeight": "bold", "titleFontStyle": "italic", "titleY": 54, "titleBaseline": "middle"}},
            "y": {"field": "h", "type": "quantitative", "scale": {"domain": [-50, 70], "nice": false, "zero": false},
                  "axis": {"orient": "left", "values": [-40,-20,0,20,40,60], "tickSize": -8, "tickWidth": 1.5, "tickColor": "#555", "domainColor": "#555", "domainWidth": 1.5, "grid": false, "labelFont": "Liberation Serif", "labelFontSize": 22, "labelColor": "#000", "labelPadding": 19, "labelFlush": false, "labelOverlap": false, "title": "h/m", "titleFont": "Liberation Serif", "titleColor": "#000", "titleFontSize": 26, "titleFontWeight": "bold", "titleFontStyle": "italic", "titleX": -46, "titleY": 76, "titleAngle": -90, "titleBaseline": "middle", "titleAlign": "center"}},
            "color": {"field": "series", "type": "nominal",
                      "scale": {"domain": ["MOC", "First-order Godunov", "Second-order Godunov", "Fifth-order WENO"], "range": ["#000000", "#ff0000", "#0000ff", "#008000"]},
                      "legend": {"orient": "none", "legendX": 256.5, "legendY": -97.5, "title": null, "symbolType": "M-2.5,0H2.5", "symbolSize": 400, "symbolStrokeWidth": 3, "labelFont": "Liberation Serif", "labelFontSize": 22, "labelColor": "#000", "labelOffset": 25.5, "labelLimit": 500, "rowPadding": 7, "padding": 0}}
          }
        },
        {
          "data": {"name": "yminor"},
          "mark": {"type": "rule", "color": "#555", "strokeWidth": 1.5},
          "encoding": {"y": {"field": "h", "type": "quantitative"}, "x": {"datum": 0, "type": "quantitative"}, "x2": {"datum": 6}}
        },
        {
          "data": {"name": "xminor"},
          "mark": {"type": "rule", "color": "#555", "strokeWidth": 1.5},
          "encoding": {"x": {"field": "t", "type": "quantitative"}, "y": {"datum": -50, "type": "quantitative"}, "y2": {"datum": -48.9}}
        },
        {
          "data": {"values": [{}]},
          "mark": {"type": "rule", "strokeDash": [2, 3], "color": "#000", "strokeWidth": 1.5},
          "encoding": {"y": {"datum": 60, "type": "quantitative"}}
        },
        {
          "data": {"values": [{}]},
          "mark": {"type": "rule", "strokeDash": [2, 3], "color": "#000", "strokeWidth": 1.5},
          "encoding": {"y": {"datum": -40, "type": "quantitative"}}
        },
        {
          "data": {"values": [{}]},
          "mark": {"type": "text", "align": "left", "baseline": "middle", "fontSize": 23, "font": "Liberation Serif", "color": "#000"},
          "encoding": {
            "x": {"datum": 787, "type": "quantitative"},
            "y": {"datum": 55.1, "type": "quantitative"},
            "text": {"value": "h=60m"}
          }
        },
        {
          "data": {"values": [{}]},
          "mark": {"type": "text", "align": "left", "baseline": "middle", "fontSize": 23, "font": "Liberation Serif", "color": "#000"},
          "encoding": {
            "x": {"datum": 780, "type": "quantitative"},
            "y": {"datum": -43.6, "type": "quantitative"},
            "text": {"value": "h=–40m"}
          }
        }
      ]
    }
  ]
}
